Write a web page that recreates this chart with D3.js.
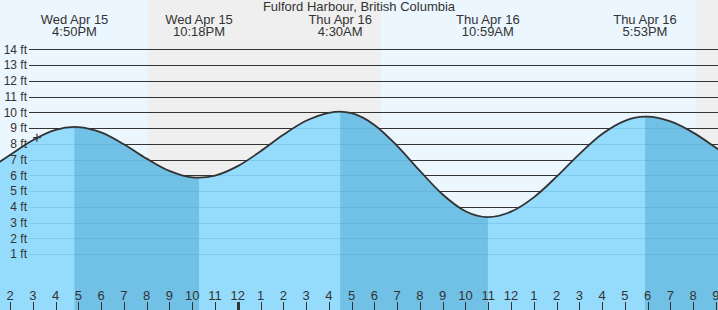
<!DOCTYPE html>
<html lang="en">
<head>
<meta charset="UTF-8" />
<title>Fulford Harbour tides</title>
<script src="https://cdn.jsdelivr.net/npm/d3@7/dist/d3.min.js"></script>
<style>
  body { margin: 0; }
  svg { display: block; font-family: 'Liberation Sans', Arial, sans-serif; }
</style>
</head>
<body>
<svg width="718" height="310"></svg>
<script>
const title = 'Fulford Harbour, British Columbia'

// high / low tides
const extremeTimes = ['2026-04-15T16:50', '2026-04-15T22:18', '2026-04-16T04:30', '2026-04-16T10:59', '2026-04-16T17:53']
const extremeHeights = [9.07, 5.85, 10.04, 3.35, 9.72]
const extremeDays = ['Wed Apr 15', 'Wed Apr 15', 'Thu Apr 16', 'Thu Apr 16', 'Thu Apr 16']
const extremeClock = ['4:50PM', '10:18PM', '4:30AM', '10:59AM', '5:53PM']

// hourly heights (ft), starting Wed 1PM
const hourStart = '2026-04-15T13:00'
const hourHeights = [6.31, 7.29, 8.23, 8.89, 9.06, 8.72, 7.97, 7.06, 6.28, 5.87,
  5.98, 6.58, 7.52, 8.57, 9.46, 9.97, 9.94, 9.20, 7.87, 6.28,
  4.78, 3.72, 3.35, 3.69, 4.60, 5.91, 7.35, 8.62, 9.46, 9.72,
  9.42, 8.71, 7.75, 6.76]

// night (sunset -> sunrise)
const nightStarts = ['2026-04-15T20:04', '2026-04-16T20:08']
const nightEnds = ['2026-04-16T06:17', '2026-04-16T23:00']

const nowTime = '2026-04-15T15:11'
const nowHeight = 8.39

const feetTicks = [1, 2, 3, 4, 5, 6, 7, 8, 9, 10, 11, 12, 13, 14]

const parse = d3.timeParse('%Y-%m-%dT%H:%M')
const svg = d3.select('svg')
const width = +svg.attr('width')
const height = +svg.attr('height')

const x = d3.scaleTime()
  .domain([d3.timeParse('%Y-%m-%dT%H:%M:%S')('2026-04-15T13:33:40'), d3.timeParse('%Y-%m-%dT%H:%M:%S')('2026-04-16T21:05:20')])
  .range([0, width])
const y = d3.scaleLinear().domain([0, 14]).range([269.8, 49.3])

// curve points: hourly + extremes
const t0 = parse(hourStart)
let pts = hourHeights.map((h, i) => ({ t: d3.timeHour.offset(t0, i), h: h }))
extremeTimes.forEach((s, i) => pts.push({ t: parse(s), h: extremeHeights[i] }))
pts.sort((a, b) => a.t - b.t)
// drop hourly points lying within a few minutes of an extreme
pts = pts.filter((p, i) => i == 0 || (p.t - pts[i - 1].t) > 5 * 60000)

// background
svg.append('rect').attr('width', width).attr('height', height).attr('fill', '#ebf6fe')
svg.append('g').selectAll('rect')
  .data(nightStarts)
  .enter().append('rect')
  .attr('x', d => x(parse(d)))
  .attr('width', (d, i) => x(parse(nightEnds[i])) - x(parse(d)))
  .attr('y', 0).attr('height', height)
  .attr('fill', '#efefef')

// grid lines
const grid = svg.append('g')
grid.selectAll('line')
  .data(feetTicks)
  .enter().append('line')
  .attr('x1', 29).attr('x2', width)
  .attr('y1', d => Math.round(y(d)) + 0.5)
  .attr('y2', d => Math.round(y(d)) + 0.5)
  .attr('stroke', '#333')

// water
const area = d3.area()
  .x(d => x(d.t))
  .y0(height)
  .y1(d => y(d.h))
  .curve(d3.curveMonotoneX)

svg.append('clipPath').attr('id', 'water')
  .append('path').attr('d', area(pts))

svg.append('path').attr('d', area(pts)).attr('fill', '#95dbfc')

// falling tide (high -> low) is darker
const falling = []
for (let i = 0; i < extremeTimes.length; i++) {
  if (extremeHeights[i] > (extremeHeights[i + 1] ?? -1) || i == extremeTimes.length - 1) {
    if (i == 0 || extremeHeights[i] > extremeHeights[i - 1]) {
      falling.push([parse(extremeTimes[i]), i + 1 < extremeTimes.length ? parse(extremeTimes[i + 1]) : x.domain()[1]])
    }
  }
}
const wet = svg.append('g').attr('clip-path', 'url(#water)')
wet.selectAll('rect')
  .data(falling)
  .enter().append('rect')
  .attr('x', d => x(d[0]))
  .attr('width', d => x(d[1]) - x(d[0]))
  .attr('y', 0).attr('height', height)
  .attr('fill', '#71c0e5')
wet.selectAll('line')
  .data(feetTicks)
  .enter().append('line')
  .attr('x1', 29).attr('x2', width)
  .attr('y1', d => Math.round(y(d)) + 0.5)
  .attr('y2', d => Math.round(y(d)) + 0.5)
  .attr('stroke', '#3a8fc0')
  .attr('stroke-opacity', 0.22)

// tide line
const line = d3.line()
  .x(d => x(d.t))
  .y(d => y(d.h))
  .curve(d3.curveMonotoneX)
svg.append('path').attr('d', line(pts))
  .attr('fill', 'none')
  .attr('stroke', '#333')
  .attr('stroke-width', 1.8)

// feet labels
svg.append('g').selectAll('text')
  .data(feetTicks)
  .enter().append('text')
  .attr('x', 27)
  .attr('y', d => y(d))
  .attr('dy', '0.35em')
  .attr('text-anchor', 'end')
  .attr('font-size', 12)
  .attr('fill', '#333')
  .text(d => d + ' ft')

// extreme labels
const lab = svg.append('g').selectAll('text')
  .data(extremeTimes)
  .enter().append('text')
  .attr('x', d => x(parse(d)))
  .attr('text-anchor', 'middle')
  .attr('font-size', 13)
  .attr('fill', '#333')
lab.append('tspan').attr('x', d => x(parse(d))).attr('y', 24).text((d, i) => extremeDays[i])
lab.append('tspan').attr('x', d => x(parse(d))).attr('y', 36).text((d, i) => extremeClock[i])

svg.append('text')
  .attr('x', width / 2)
  .attr('y', 11)
  .attr('text-anchor', 'middle')
  .attr('font-size', 13)
  .attr('fill', '#333')
  .text(title)

// hour axis
const hours = x.ticks(d3.timeHour.every(1))
const hg = svg.append('g')
hg.selectAll('line')
  .data(hours)
  .enter().append('line')
  .attr('x1', d => Math.round(x(d)) + 0.5)
  .attr('x2', d => Math.round(x(d)) + 0.5)
  .attr('y1', 302).attr('y2', height)
  .attr('stroke', '#333')
  .attr('stroke-width', d => d.getHours() == 0 ? 3 : 1)
hg.selectAll('text')
  .data(hours)
  .enter().append('text')
  .attr('x', d => x(d))
  .attr('y', 300)
  .attr('text-anchor', 'middle')
  .attr('font-size', 13)
  .attr('fill', '#333')
  .text(d3.timeFormat('%-I'))

// current time marker
const nx = x(parse(nowTime))
const ny = y(nowHeight)
svg.append('path')
  .attr('d', `M${nx - 4},${ny}H${nx + 4}M${nx},${ny - 4}V${ny + 4}`)
  .attr('stroke', '#333')
  .attr('stroke-width', 1.2)
</script>
</body>
</html>
